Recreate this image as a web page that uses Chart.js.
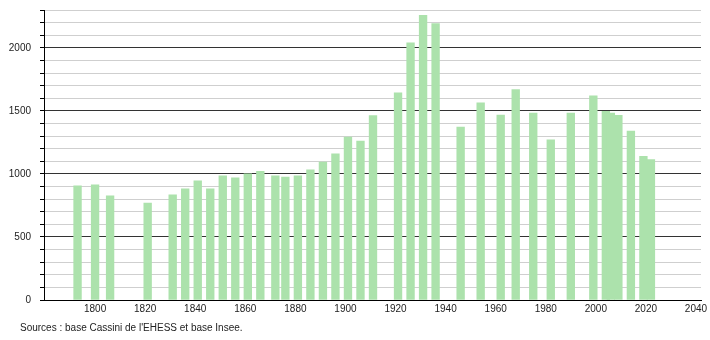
<!DOCTYPE html>
<html>
<head>
<meta charset="utf-8">
<script src="https://cdn.jsdelivr.net/npm/chart.js@4"></script>
<style>
  html, body { margin: 0; padding: 0; background: #fff; }
  #wrap { position: relative; width: 710px; height: 340px; }
  #source {
    position: absolute; left: 20px; top: 322px;
    font: 10px "Liberation Sans", Arial, sans-serif; color: #222;
  }
</style>
</head>
<body>
<div id="wrap">
  <canvas id="chart" width="710" height="340"></canvas>
  <div id="source">Sources : base Cassini de l'EHESS et base Insee.</div>
</div>
<script>
// census years and population
const years = [1793, 1800, 1806, 1821, 1831, 1836, 1841, 1846, 1851, 1856,
               1861, 1866, 1872, 1876, 1881, 1886, 1891, 1896, 1901, 1906,
               1911, 1921, 1926, 1931, 1936, 1946, 1954, 1962, 1968, 1975,
               1982, 1990, 1999, 2004, 2006, 2009, 2014, 2019, 2022];
const population = [906, 914, 826, 768, 834, 882, 946, 882, 985, 969,
                    1001, 1020, 985, 975, 985, 1033, 1094, 1160, 1293, 1261,
                    1462, 1643, 2040, 2257, 2193, 1372, 1563, 1467, 1669, 1483,
                    1271, 1483, 1619, 1496, 1483, 1464, 1340, 1139, 1113];
const xTicks = [1800, 1820, 1840, 1860, 1880, 1900, 1920, 1940, 1960, 1980, 2000, 2020, 2040];
const yLabelled = [0, 500, 1000, 1500, 2000];

const points = years.map((y, i) => ({ x: y, y: population[i] }));
const font = { family: '"Liberation Sans", Arial, sans-serif', size: 10 };

new Chart(document.getElementById('chart'), {
    type: 'bar',
    data: {
        datasets: [{
            data: points,
            backgroundColor: 'rgb(172, 226, 172)',
            borderWidth: 0,
            barThickness: 7.7
        }]
    },
    options: {
        responsive: false,
        animation: false,
        layout: { padding: { left: 0, right: 9, top: 10, bottom: 0 } },
        plugins: { legend: { display: false }, tooltip: { enabled: false } },
        scales: {
            x: {
                type: 'linear',
                offset: false,
                min: 1779.6,
                max: 2042,
                afterBuildTicks: scale => { scale.ticks = xTicks.map(v => ({ value: v })); },
                afterFit: scale => {
                    scale.height = 40;
                    scale.paddingLeft = 0;
                    scale.paddingRight = 0;
                },
                grid: { display: false, drawTicks: false },
                border: { display: true, color: '#000', width: 1 },
                ticks: {
                    autoSkip: false, maxRotation: 0, padding: 3,
                    color: '#222', font: font,
                    callback: v => String(v)
                }
            },
            y: {
                min: 0,
                max: 2300,
                afterFit: scale => {
                    scale.width = 44;
                    scale.paddingTop = 0;
                    scale.paddingBottom = 0;
                },
                border: { display: true, color: '#000', width: 1 },
                grid: {
                    color: ctx => ctx.tick.value % 500 === 0 ? '#333' : '#cfcfcf',
                    tickColor: '#000',
                    tickLength: 4,
                    lineWidth: 1
                },
                ticks: {
                    stepSize: 100, autoSkip: false, padding: 9,
                    color: '#222', font: font,
                    callback: v => yLabelled.includes(v) ? String(v) : ''
                }
            }
        }
    }
});
</script>
</body>
</html>
